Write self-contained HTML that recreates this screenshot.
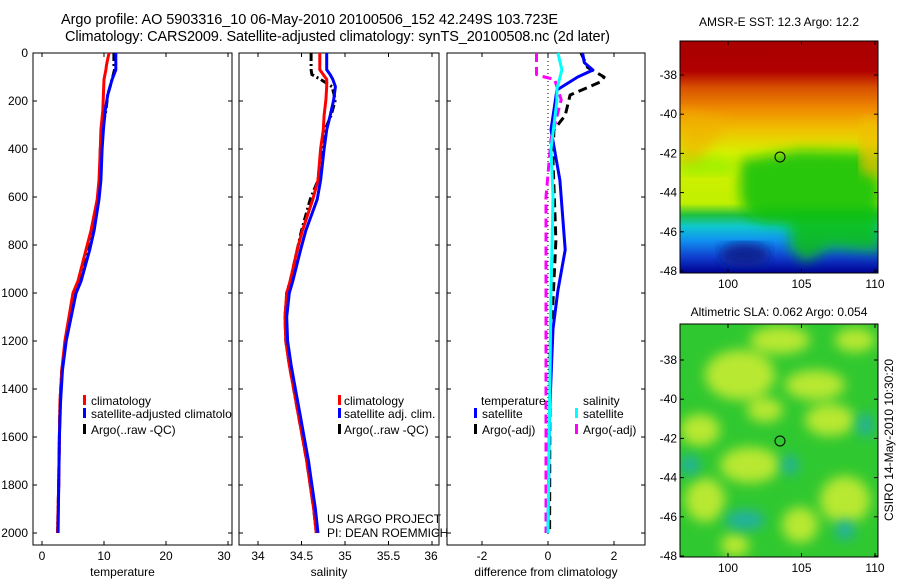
<!DOCTYPE html>
<html><head><meta charset="utf-8"><style>
body{margin:0;background:#fff}
svg{display:block;font-family:"Liberation Sans",sans-serif}
</style></head><body>
<svg id="fig" width="900" height="580" viewBox="0 0 900 580" xmlns="http://www.w3.org/2000/svg">
<defs>
<linearGradient id="sstBase" x1="0" y1="0" x2="0" y2="1">
<stop offset="0" stop-color="#a80000"/><stop offset="0.13" stop-color="#b00000"/>
<stop offset="0.2" stop-color="#d85000"/><stop offset="0.3" stop-color="#f09000"/>
<stop offset="0.38" stop-color="#f0c000"/><stop offset="0.48" stop-color="#d8f000"/>
<stop offset="0.7" stop-color="#c0f000"/><stop offset="0.75" stop-color="#20c040"/>
<stop offset="0.8" stop-color="#10c8d0"/><stop offset="0.86" stop-color="#1090f0"/>
<stop offset="0.93" stop-color="#1040d0"/><stop offset="1" stop-color="#000090"/>
</linearGradient>
<filter id="blur6"><feGaussianBlur stdDeviation="6"/></filter>
<clipPath id="clipSst"><rect x="680" y="41" width="198" height="232"/></clipPath>
<clipPath id="clipSla"><rect x="680" y="324" width="198" height="233"/></clipPath>
<clipPath id="clipTemp"><rect x="33" y="53" width="199" height="492"/></clipPath>
</defs>
<text x="61" y="24" font-size="14.5" textLength="497">Argo profile: AO 5903316_10 06-May-2010 20100506_152 42.249S 103.723E</text>
<text x="65" y="41" font-size="14.5" textLength="545">Climatology: CARS2009. Satellite-adjusted climatology: synTS_20100508.nc (2d later)</text>

<!-- SST map -->
<g clip-path="url(#clipSst)">
<rect x="680" y="41" width="198" height="232" fill="url(#sstBase)"/>
<path d="M740,160 L800,150 L880,152 L880,252 L830,248 L805,262 L790,248 L790,225 L760,222 L745,212 L740,195 Z" fill="#10c010" filter="url(#blur6)" opacity="0.85"/>
<path d="M680,152 L735,160 L735,175 L680,175 Z" fill="#a0f000" filter="url(#blur6)"/>
<path d="M680,110 L730,120 L700,160 L680,165 Z" fill="#f0b000" opacity="0.6" filter="url(#blur6)"/>
<path d="M860,120 L880,120 L880,180 L860,170Z" fill="#f0c000" opacity="0.8" filter="url(#blur6)"/>
<ellipse cx="745" cy="255" rx="25" ry="12" fill="#102090" filter="url(#blur6)"/>
</g>
<rect x="680" y="41" width="198" height="232" fill="none" stroke="#000"/>
<circle cx="780" cy="157" r="5" fill="none" stroke="#000"/>
<text x="779" y="26" font-size="12" text-anchor="middle">AMSR-E SST: 12.3 Argo: 12.2</text>

<!-- SLA map -->
<g clip-path="url(#clipSla)">
<rect x="680" y="324" width="198" height="233" fill="#30c830"/>
<g filter="url(#blur6)" fill="#b8e830">
<ellipse cx="740" cy="375" rx="35" ry="25"/><ellipse cx="780" cy="340" rx="30" ry="14"/>
<ellipse cx="815" cy="385" rx="30" ry="15"/><ellipse cx="830" cy="420" rx="25" ry="16"/>
<ellipse cx="700" cy="430" rx="20" ry="16"/><ellipse cx="750" cy="465" rx="30" ry="18"/>
<ellipse cx="705" cy="500" rx="20" ry="22"/><ellipse cx="845" cy="500" rx="25" ry="24"/>
<ellipse cx="800" cy="525" rx="18" ry="18"/><ellipse cx="735" cy="545" rx="14" ry="12"/>
<ellipse cx="765" cy="410" rx="18" ry="12"/><ellipse cx="855" cy="340" rx="20" ry="12"/>
</g>
<g filter="url(#blur6)" fill="#20b0a0">
<ellipse cx="745" cy="520" rx="20" ry="10"/><ellipse cx="845" cy="530" rx="10" ry="10"/>
<ellipse cx="690" cy="465" rx="10" ry="10"/><ellipse cx="865" cy="425" rx="8" ry="12"/>
<ellipse cx="790" cy="465" rx="8" ry="10"/>
</g>
</g>
<rect x="680" y="324" width="198" height="233" fill="none" stroke="#000"/>
<circle cx="780" cy="441" r="5" fill="none" stroke="#000"/>
<text x="779" y="316" font-size="12" text-anchor="middle">Altimetric SLA: 0.062 Argo: 0.054</text>
<text transform="translate(893,440) rotate(-90)" font-size="12" text-anchor="middle">CSIRO 14-May-2010 10:30:20</text>

<g id="axes"></g>
<g id="marks"></g>
<g id="legends">
<g clip-path="url(#clipTemp)">
<text x="91" y="405" font-size="12">climatology</text>
<text x="91" y="418" font-size="12">satellite-adjusted climatology</text>
<text x="91" y="434" font-size="12">Argo(..raw -QC)</text>
</g>
<rect x="83" y="395" width="3" height="10" fill="#f00"/><rect x="83" y="408" width="3" height="10" fill="#00f"/><rect x="83" y="424" width="3" height="10" fill="#000"/>
<text x="344" y="405" font-size="12">climatology</text>
<text x="344" y="418" font-size="12">satellite adj. clim.</text>
<text x="344" y="434" font-size="12">Argo(..raw -QC)</text>
<rect x="338" y="395" width="3" height="10" fill="#f00"/><rect x="338" y="408" width="3" height="10" fill="#00f"/><rect x="338" y="424" width="3" height="10" fill="#000"/>
<text x="481" y="405" font-size="12">temperature</text>
<text x="482" y="418" font-size="12">satellite</text>
<text x="482" y="434" font-size="12">Argo(-adj)</text>
<rect x="474" y="408" width="3" height="10" fill="#00f"/><rect x="474" y="424" width="3" height="10" fill="#000"/>
<text x="583" y="405" font-size="12">salinity</text>
<text x="583" y="418" font-size="12">satellite</text>
<text x="583" y="434" font-size="12">Argo(-adj)</text>
<rect x="575" y="408" width="3" height="10" fill="#0ff"/><rect x="575" y="424" width="3" height="10" fill="#f0f"/>
<text x="327" y="523" font-size="12">US ARGO PROJECT</text>
<text x="327" y="537" font-size="12">PI: DEAN ROEMMICH</text>
</g>
</svg>
<script>
const depthTicks=[0,200,400,600,800,1000,1200,1400,1600,1800,2000];
const tempTicks=[0,10,20,30];
const salTicks=[34,34.5,35,35.5,36];
const diffTicks=[-2,0,2];
const latTicks=[-38,-40,-42,-44,-46,-48];
const lonTicks=[100,105,110];

const tDepth=[0,50,70,110,175,240,320,400,530,610,740,820,950,1000,1200,1320,1450,1600,1800,2000];
const tRed=[10.8,10.4,10.3,10.0,9.9,9.8,9.5,9.4,9.2,8.9,7.9,7.1,5.8,5.0,3.7,3.2,2.9,2.8,2.7,2.5];
const tBlue=[11.9,11.9,11.9,11.3,10.6,10.2,9.9,9.7,9.5,9.2,8.4,7.7,6.3,5.5,3.9,3.3,3.0,2.8,2.7,2.6];
const tBlack=[11.6,11.6,11.7,11.3,10.6,10.3,9.7,9.4,9.3,9.0,8.1,7.4,6.0,5.2,3.8,3.2,2.9,2.8,2.7,2.5];

const sDepth=[0,70,90,110,140,195,260,320,400,530,610,740,820,950,1000,1100,1200,1300,1400,1500,1600,1700,1800,1900,2000];
const sRed=[34.71,34.71,34.75,34.79,34.79,34.78,34.76,34.75,34.72,34.69,34.63,34.51,34.45,34.37,34.33,34.31,34.32,34.36,34.41,34.46,34.51,34.56,34.60,34.64,34.67];
const sBlue=[34.79,34.79,34.83,34.86,34.89,34.87,34.83,34.79,34.76,34.72,34.68,34.55,34.49,34.40,34.36,34.33,34.34,34.38,34.43,34.48,34.53,34.58,34.62,34.66,34.69];
const sBlack=[34.61,34.61,34.62,34.72,34.85,34.89,34.84,34.77,34.73,34.69,34.60,34.50,34.45,34.37,34.33,34.31,34.32,34.36,34.41,34.46,34.51,34.56,34.60,34.64,34.67];

const dBlueDepth=[0,40,71,100,154,320,530,820,990,1150,1500,2000];
const dBlue=[1.05,1.1,1.36,0.9,0.27,0.09,0.36,0.52,0.3,0.15,0.05,0.0];
const dBlackDepth=[0,60,100,120,175,260,320,450,780,1030,1230,2000];
const dBlack=[1.0,1.2,1.7,1.6,0.67,0.52,0.18,0.15,0.24,0.15,0.06,0.05];
const dCyanDepth=[0,70,150,200,400,600,1000,2000];
const dCyan=[0.3,0.42,0.27,0.27,0.09,0.15,0.09,0.0];
const dMagDepth=[0,90,100,110,195,280,360,600,800,1000,1500,2000];
const dMag=[-0.35,-0.35,-0.1,0.2,0.4,0.24,0.09,-0.06,-0.06,-0.06,-0.06,-0.06];

const NS='http://www.w3.org/2000/svg';
const axesG=document.getElementById('axes'), marksG=document.getElementById('marks');
function mk(tag,attrs,parent){const e=document.createElementNS(NS,tag);for(const k in attrs)e.setAttribute(k,attrs[k]);parent.appendChild(e);return e;}
const TOP=53, BOT=545;
const yD=d=>TOP+d*0.24;
const panels=[
 {x0:33,x1:232,fx:v=>42+v*6.2,ticks:tempTicks,label:'temperature',name:'temperature'},
 {x0:239,x1:439,fx:v=>258+(v-34)*87,ticks:salTicks,label:'salinity',name:'salinity'},
 {x0:447,x1:645,fx:v=>548+v*33,ticks:diffTicks,label:'difference from climatology',name:'difference'}
];
panels.forEach((p,i)=>{
 const r=mk('rect',{x:p.x0,y:TOP,width:p.x1-p.x0,height:BOT-TOP,fill:'none',stroke:'#000'},axesG);
 
 
 p.ticks.forEach(v=>{
  const x=p.fx(v);
  if(x<p.x0-10)return;
  const xx=Math.min(x,p.x1-8);
  if(x<=p.x1){mk('line',{x1:x,x2:x,y1:TOP,y2:TOP+4,stroke:'#000'},axesG);mk('line',{x1:x,x2:x,y1:BOT,y2:BOT-4,stroke:'#000'},axesG);}
  const t=mk('text',{x:xx,y:560,'font-size':12,'text-anchor':'middle'},axesG);t.textContent=v;
  
  
 });
 depthTicks.forEach(d=>{
  const y=yD(d);
  mk('line',{x1:p.x0,x2:p.x0+4,y1:y,y2:y,stroke:'#000'},axesG);
  mk('line',{x1:p.x1,x2:p.x1-4,y1:y,y2:y,stroke:'#000'},axesG);
  if(i===0){const t=mk('text',{x:p.x0-5,y:y+4,'font-size':12,'text-anchor':'end'},axesG);t.textContent=d;
   
   }
 });
 const lab=mk('text',{x:(p.x0+p.x1)/2-(i===2?0:10),y:576,'font-size':12,'text-anchor':'middle'},axesG);lab.textContent=p.label;
 
 
});
const zl=mk('line',{x1:panels[2].fx(0),x2:panels[2].fx(0),y1:TOP,y2:BOT-10,stroke:'#000','stroke-dasharray':'1,3'},axesG);



function line(p,depths,vals,color,w,dash,name){
 const pts=depths.map((d,k)=>p.fx(vals[k]).toFixed(1)+','+yD(d).toFixed(1)).join(' ');
 const a={points:pts,fill:'none',stroke:color,'stroke-width':w,'stroke-linejoin':'round'};
 if(dash)a['stroke-dasharray']=dash;
 const e=mk('polyline',a,marksG);
 
 
}
line(panels[0],tDepth,tBlack,'#000',3,'8,3,2,3','temp-argo-line');
line(panels[0],tDepth,tRed,'#f00',3,null,'temp-climatology-line');
line(panels[0],tDepth,tBlue,'#00f',3,null,'temp-satellite-line');
line(panels[1],sDepth,sBlack,'#000',3,'8,3,2,3','sal-argo-line');
line(panels[1],sDepth,sRed,'#f00',3,null,'sal-climatology-line');
line(panels[1],sDepth,sBlue,'#00f',3,null,'sal-satellite-line');
line(panels[2],dBlackDepth,dBlack,'#000',3,'9,5','diff-temp-argo-line');
line(panels[2],dMagDepth,dMag,'#f0f',3,'9,5','diff-sal-argo-line');
line(panels[2],dBlueDepth,dBlue,'#00f',3,null,'diff-temp-satellite-line');
line(panels[2],dCyanDepth,dCyan,'#0ff',3,null,'diff-sal-satellite-line');

const maps=[{x0:680,x1:878,yTop:41,yBot:273,lat0y:75,name:'sst'},{x0:680,x1:878,yTop:324,yBot:557,lat0y:360,name:'sla'}];
maps.forEach(m=>{
 latTicks.forEach(l=>{
  const y=m.lat0y+(-38-l)*19.6;
  mk('line',{x1:m.x0,x2:m.x0+4,y1:y,y2:y,stroke:'#000'},axesG);
  mk('line',{x1:m.x1,x2:m.x1-4,y1:y,y2:y,stroke:'#000'},axesG);
  const t=mk('text',{x:m.x0-3,y:y+4,'font-size':12,'text-anchor':'end'},axesG);t.textContent=l;
  
  
 });
 lonTicks.forEach(l=>{
  const x=728+(l-100)*14.7;
  mk('line',{x1:x,x2:x,y1:m.yBot,y2:m.yBot-4,stroke:'#000'},axesG);
  mk('line',{x1:x,x2:x,y1:m.yTop,y2:m.yTop+4,stroke:'#000'},axesG);
  const t=mk('text',{x:x,y:m.yBot+15,'font-size':12,'text-anchor':'middle'},axesG);t.textContent=l;
  
  
 });
});
</script>
</body></html>
